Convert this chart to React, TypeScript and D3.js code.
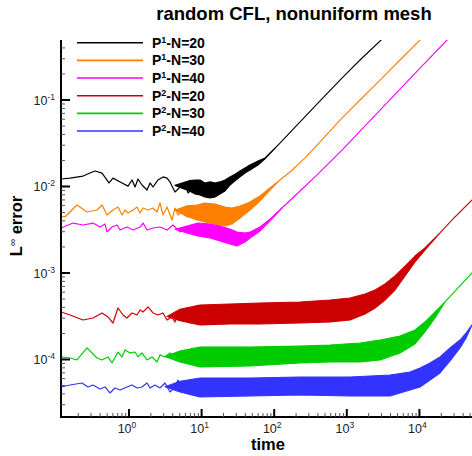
import * as d3 from 'd3';

const W = 472;
const H = 456;
const margin = { top: 40, right: 0, bottom: 39, left: 61 };

// legend / series meta
const degrees = ['1', '1', '1', '2', '2', '2'];
const meshes = [20, 30, 40, 20, 30, 40];
const colors = ['#000000', '#ff8000', '#ff00ff', '#cc0000', '#00cc00', '#3333ff'];

const xTickExps = [0, 1, 2, 3, 4];
const yTickExps = [-4, -3, -2, -1];

// early part of each run: [time, error]
const blackEarly = [
  [0.116, 0.0122], [0.154, 0.0125], [0.233, 0.0132], [0.29, 0.0143], [0.34, 0.0151],
  [0.425, 0.0143], [0.53, 0.011], [0.602, 0.0125], [0.801, 0.011], [0.969, 0.0101],
  [1.1, 0.0119], [1.21, 0.00987], [1.33, 0.0122], [1.51, 0.0104], [1.77, 0.00911],
  [1.95, 0.011], [2.14, 0.00987], [2.51, 0.0119], [2.94, 0.0129], [3.34, 0.0125],
  [3.67, 0.0113], [4.3, 0.00864], [5.04, 0.00987], [5.91, 0.011], [6.5, 0.00841],
  [7.61, 0.00961], [8.92, 0.00797],
];
const orangeEarly = [
  [0.116, 0.00456], [0.131, 0.00444], [0.192, 0.00611], [0.264, 0.00507], [0.362, 0.00535],
  [0.425, 0.00611], [0.498, 0.00468], [0.602, 0.00535], [0.705, 0.00579], [0.801, 0.00468],
  [0.881, 0.00535], [0.969, 0.00494], [1.14, 0.00535], [1.29, 0.00579], [1.42, 0.00494],
  [1.56, 0.00564], [1.83, 0.00535], [2.14, 0.00564], [2.43, 0.00507], [2.67, 0.00645],
  [2.94, 0.00468], [3.34, 0.00579], [3.91, 0.0041], [4.3, 0.00564], [4.73, 0.00468],
  [5.54, 0.00535], [6.29, 0.00444], [7.38, 0.00579], [8.64, 0.00432],
];
const magentaEarly = [
  [0.116, 0.00331], [0.169, 0.00378], [0.233, 0.00359], [0.319, 0.00378], [0.399, 0.0034],
  [0.467, 0.00369], [0.498, 0.00298], [0.583, 0.0034], [0.683, 0.00359], [0.752, 0.00314],
  [0.939, 0.0034], [1.14, 0.00314], [1.42, 0.0034], [1.56, 0.00378], [1.77, 0.00314],
  [2.14, 0.00331], [2.67, 0.0034], [3.34, 0.00314], [4.04, 0.00359], [5.04, 0.00298],
  [6.29, 0.00331], [7.61, 0.0029], [8.92, 0.00314],
];
const redEarly = [
  [0.116, 0.000354], [0.154, 0.000327], [0.233, 0.000286], [0.319, 0.000302], [0.425, 0.000345],
  [0.514, 0.00031], [0.602, 0.000264], [0.705, 0.000394], [0.827, 0.000327], [0.939, 0.000302],
  [1.1, 0.000345], [1.29, 0.000327], [1.42, 0.000374], [1.56, 0.000354], [1.83, 0.000405],
  [2.14, 0.000345], [2.51, 0.000327], [2.94, 0.000345], [3.34, 0.000286], [3.91, 0.00031],
  [4.3, 0.000271], [4.73, 0.000345], [5.54, 0.000374], [6.29, 0.000286], [6.92, 0.000264],
  [7.61, 0.000345], [8.92, 0.000327],
];
const greenEarly = [
  [0.116, 0.000107], [0.154, 0.000104], [0.192, 0.0000987], [0.264, 0.000136], [0.362, 0.000104],
  [0.425, 0.0000987], [0.514, 0.000107], [0.583, 0.0000911], [0.705, 0.000122], [0.801, 0.000107],
  [0.881, 0.000129], [1.03, 0.000119], [1.21, 0.000122], [1.33, 0.000107], [1.51, 0.000119],
  [1.77, 0.0000987], [2.07, 0.000107], [2.43, 0.0000936], [2.67, 0.000113], [3.13, 0.000107],
  [3.67, 0.000119], [4.3, 0.000104], [5.04, 0.000122], [5.91, 0.0000987], [6.5, 0.000113],
  [7.38, 0.000136], [8.11, 0.0000936], [8.92, 0.000113],
];
const blueEarly = [
  [0.116, 0.0000481], [0.154, 0.0000507], [0.225, 0.0000535], [0.272, 0.0000481], [0.319, 0.0000507],
  [0.399, 0.0000456], [0.467, 0.0000481], [0.547, 0.000041], [0.641, 0.0000468], [0.752, 0.0000444],
  [0.939, 0.0000481], [1.1, 0.0000507], [1.29, 0.0000468], [1.51, 0.0000481], [1.77, 0.0000535],
  [1.95, 0.0000468], [2.28, 0.0000507], [2.67, 0.0000468], [3.13, 0.0000535], [3.67, 0.0000421],
  [4.3, 0.0000481], [4.73, 0.0000579], [5.54, 0.0000444], [6.5, 0.0000535], [7.61, 0.0000421],
  [8.92, 0.0000481],
];

// later part: [time, lower envelope, upper envelope] of the oscillating error
const blackBand = [
  [4.3, 0.0103, 0.0103], [6.92, 0.0088, 0.0117],
  [8.11, 0.00819, 0.0119], [9.51, 0.00797, 0.0119], [11.1, 0.00756, 0.011], [13.1, 0.00736, 0.0113],
  [15.3, 0.00756, 0.011], [17.9, 0.00819, 0.0113], [21.0, 0.00887, 0.0119], [24.6, 0.0104, 0.0129],
  [28.8, 0.0116, 0.0139], [33.8, 0.0129, 0.0151], [39.6, 0.0143, 0.0164], [46.4, 0.0155, 0.0177],
  [59.8, 0.0177, 0.0197], [74.7, 0.0209, 0.0214], [120, 0.0318, 0.0318], [227, 0.0557, 0.0557],
  [428, 0.0974, 0.0974], [806, 0.17, 0.17], [1520, 0.29, 0.29], [2960, 0.494, 0.494], [3940, 0.628, 0.628],
];
const orangeBand = [
  [4.3, 0.0053, 0.0053], [6.29, 0.0045, 0.006],
  [8.64, 0.0041, 0.00611], [11.1, 0.00389, 0.00645], [15.3, 0.00369, 0.00628], [21.0, 0.00349, 0.00579],
  [26.2, 0.00369, 0.00564], [33.8, 0.00432, 0.00595], [46.4, 0.00535, 0.00662], [63.7, 0.0068, 0.00777],
  [87.5, 0.0091, 0.0096], [120, 0.0119, 0.0119], [165, 0.0147, 0.0147], [266, 0.0214, 0.0214],
  [428, 0.0327, 0.0327], [806, 0.0587, 0.0587], [1520, 0.1, 0.1], [2870, 0.17, 0.17],
  [5400, 0.29, 0.29], [10200, 0.494, 0.494], [14000, 0.644, 0.644],
];
const magentaBand = [
  [4.3, 0.0032, 0.0032], [6.29, 0.0029, 0.0035],
  [8.92, 0.00268, 0.00378], [13.1, 0.00254, 0.00369], [17.9, 0.00234, 0.00349], [24.6, 0.00216, 0.00323],
  [30.7, 0.00205, 0.00298], [39.6, 0.00228, 0.0029], [46.4, 0.00254, 0.00298], [63.7, 0.00306, 0.0034],
  [87.5, 0.004, 0.0042], [132, 0.00579, 0.00579], [227, 0.00887, 0.00887], [389, 0.0136, 0.0136],
  [859, 0.0264, 0.0264], [1520, 0.0438, 0.0438], [2870, 0.0766, 0.0766], [5400, 0.134, 0.134],
  [10200, 0.234, 0.234], [24000, 0.494, 0.494], [30900, 0.611, 0.611],
];
const redBand = [
  [3.34, 0.000315, 0.000315], [5.04, 0.00028, 0.00038],
  [9.51, 0.000251, 0.000427], [24.6, 0.000257, 0.000438], [63.7, 0.000257, 0.00045], [227, 0.000264, 0.000462],
  [587, 0.000271, 0.000487], [1107, 0.000286, 0.000514], [1780, 0.000336, 0.000572], [2450, 0.000394, 0.000636],
  [3360, 0.000487, 0.000746], [4610, 0.000636, 0.000923], [6340, 0.000923, 0.0012], [8700, 0.00134, 0.00157],
  [11900, 0.00184, 0.00195], [19200, 0.0029, 0.0029], [30900, 0.00444, 0.00444], [53000, 0.00698, 0.00698],
];
const greenBand = [
  [3.13, 0.000108, 0.000108], [5.04, 0.0000936, 0.000125],
  [9.51, 0.0000819, 0.000139], [46.4, 0.0000841, 0.000139], [227, 0.0000911, 0.000143], [587, 0.0000936, 0.000147],
  [1520, 0.0000936, 0.000155], [2870, 0.0000987, 0.000168], [5400, 0.000119, 0.000187], [8700, 0.000151, 0.000219],
  [11900, 0.000208, 0.000271], [16400, 0.000302, 0.000354], [22500, 0.000462, 0.000462], [34000, 0.000671, 0.000671],
  [53000, 0.001, 0.001],
];
const blueBand = [
  [3.13, 0.0000485, 0.0000485], [5.04, 0.000042, 0.000056],
  [9.51, 0.0000369, 0.0000611], [46.4, 0.0000378, 0.0000611], [227, 0.0000389, 0.0000628], [1107, 0.0000378, 0.0000628],
  [3940, 0.0000378, 0.0000662], [7420, 0.0000444, 0.0000717], [10200, 0.0000481, 0.0000797], [14000, 0.0000579, 0.0000911],
  [19200, 0.0000698, 0.000107], [26400, 0.0000961, 0.000136], [36200, 0.000136, 0.000168], [43900, 0.000177, 0.000202],
  [53000, 0.000251, 0.000251],
];

const earlies = [blackEarly, orangeEarly, magentaEarly, redEarly, greenEarly, blueEarly];
const bands = [blackBand, orangeBand, magentaBand, redBand, greenBand, blueBand];

const font = '"Liberation Sans", Arial, Helvetica, sans-serif';

export default function App() {
  const x = d3.scaleLog().domain([0.1157, 53000]).range([margin.left, W - margin.right]);
  const y = d3.scaleLog().domain([2.163e-5, 0.494]).range([H - margin.bottom, margin.top]);
  const [x0, x1] = x.range();
  const [yb, yt] = y.range();

  const line = d3.line<number[]>().x((d) => x(d[0])).y((d) => y(d[1]));
  const area = d3.area<number[]>()
    .x((d) => x(d[0]))
    .y0((d) => y(d[1]))
    .y1((d) => y(d[2]));

  const xMinor: number[] = [];
  for (let e = -1; e <= 4; e++) for (let m = 2; m <= 9; m++) {
    const v = m * Math.pow(10, e);
    if (v > x.domain()[0] && v < x.domain()[1]) xMinor.push(v);
  }
  const yMinor: number[] = [];
  for (let e = -5; e <= -1; e++) for (let m = 2; m <= 9; m++) {
    const v = m * Math.pow(10, e);
    if (v > y.domain()[0] && v < y.domain()[1]) yMinor.push(v);
  }

  return (
    <svg width={W} height={H} style={{ position: 'absolute', left: 0, top: 0, background: '#fff' }} fontFamily={font}>
      <defs>
        <clipPath id="plot">
          <rect x={x0} y={yt} width={x1 - x0} height={yb - yt} />
        </clipPath>
      </defs>

      <text x={294} y={20} textAnchor="middle" fontSize={18.5} fontWeight="bold">random CFL, nonuniform mesh</text>

      <g clipPath="url(#plot)">
        {bands.map((b, i) => (
          <path key={'b' + i} d={area(b) || ''} fill={colors[i]} stroke={colors[i]} strokeWidth={1.1} strokeLinejoin="round" />
        ))}
        {earlies.map((e, i) => (
          <path key={'e' + i} d={line(e) || ''} fill="none" stroke={colors[i]} strokeWidth={1.2} strokeLinejoin="round" />
        ))}
      </g>

      {/* axes */}
      <g stroke="#000" fill="none">
        <line x1={x0} x2={x1} y1={yb} y2={yb} strokeWidth={2} />
        <line x1={x0} x2={x0} y1={yb + 1} y2={yt} strokeWidth={2} />
        {xMinor.map((v) => (
          <line key={'xm' + v} x1={x(v)} x2={x(v)} y1={yb} y2={yb - 4} strokeWidth={1} stroke="#555" />
        ))}
        {xTickExps.map((e) => (
          <line key={'xM' + e} x1={x(Math.pow(10, e))} x2={x(Math.pow(10, e))} y1={yb} y2={yb - 8} strokeWidth={2} />
        ))}
        {yMinor.map((v) => (
          <line key={'ym' + v} x1={x0} x2={x0 + 4} y1={y(v)} y2={y(v)} strokeWidth={1} stroke="#555" />
        ))}
        {yTickExps.map((e) => (
          <line key={'yM' + e} x1={x0} x2={x0 + 9} y1={y(Math.pow(10, e))} y2={y(Math.pow(10, e))} strokeWidth={2} />
        ))}
      </g>

      {xTickExps.map((e) => (
        <text key={'xl' + e} x={x(Math.pow(10, e)) - 2} y={433} textAnchor="middle" fontSize={12.5} fill="#222">
          10<tspan fontSize={8.5} dy={-5}>{e}</tspan>
        </text>
      ))}
      {yTickExps.map((e) => (
        <text key={'yl' + e} x={55} y={y(Math.pow(10, e)) + 5} textAnchor="end" fontSize={12.5} fill="#222">
          10<tspan fontSize={8.5} dy={-5}>{e}</tspan>
        </text>
      ))}

      <text x={268} y={450} textAnchor="middle" fontSize={16.5} fontWeight="bold">time</text>
      <text transform="translate(22,226) rotate(-90)" textAnchor="middle" fontSize={16.5} fontWeight="bold">
        L<tspan fontSize={10} fontWeight="normal" dy={-6}>∞</tspan><tspan dy={6}> error</tspan>
      </text>

      {/* legend */}
      {colors.map((c, i) => {
        const ly = 42.7 + i * 17.66;
        return (
          <g key={'lg' + i}>
            <line x1={77} x2={143} y1={ly} y2={ly} stroke={c} strokeWidth={1.6} />
            <text x={152} y={ly + 5} fontSize={14} fontWeight="bold">
              P<tspan fontSize={9} dy={-5}>{degrees[i]}</tspan><tspan dy={5}>-N={meshes[i]}</tspan>
            </text>
          </g>
        );
      })}
    </svg>
  );
}
